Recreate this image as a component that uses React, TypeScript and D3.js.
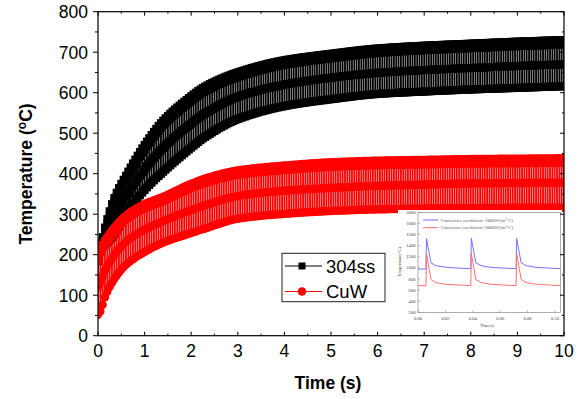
import React from 'react';
import * as d3 from 'd3';

const W = 587;
const H = 399;

// envelope knots (time in s)
const timeKnots = [0, 0.05, 0.15, 0.35, 0.6, 1, 1.4, 1.9, 2.3, 3, 4, 5, 6, 7, 8, 9, 10];
// 304ss: upper edge, middle row, lower edge (°C)
const ssUpper = [205, 228, 277, 350, 405, 481, 541, 592, 625, 660, 690, 706, 719, 726, 731, 736, 740];
const ssMid = [201, 215, 243, 290, 343, 411, 464, 515, 549, 590, 620, 637, 649, 656, 661, 666, 670];
const ssLower = [198, 205, 215, 240, 290, 350, 395, 445, 481, 525, 557, 574, 587, 593, 598, 602, 606];
// CuW
const cuwUpper = [207, 225, 246, 277, 307, 335, 353, 380, 398, 418, 430, 438, 442, 444, 446, 447, 448];
const cuwMid = [120, 132, 161, 199, 232, 262, 283, 306, 322, 345, 358, 365, 370, 373, 376, 377, 378];
const cuwLower = [42, 50, 85, 130, 165, 197, 220, 240, 255, 279, 291, 298, 302, 304, 305, 306, 306];
const cyclePeriod = 0.05;

const seriesNames = ['304ss', 'CuW'];
const xTicks = [0, 1, 2, 3, 4, 5, 6, 7, 8, 9, 10];
const yTicks = [0, 100, 200, 300, 400, 500, 600, 700, 800];

// inset
const insetYTicks = [200, 400, 600, 800, 1000, 1200, 1400, 1600, 1800, 2000];
const insetXTicks = [0, 0.02, 0.04, 0.06, 0.08, 0.1];
const insetBlueT = [0, 0.0058, 0.0062, 0.0095, 0.013, 0.02, 0.03, 0.0385, 0.0389, 0.0422, 0.046, 0.053, 0.063, 0.0716, 0.072, 0.0753, 0.079, 0.086, 0.096, 0.104];
const insetBlueV = [980, 978, 1530, 1090, 1040, 1010, 995, 985, 1530, 1090, 1040, 1010, 995, 985, 1530, 1090, 1040, 1010, 995, 985];
const insetRedT = [0, 0.0058, 0.0062, 0.0095, 0.013, 0.02, 0.03, 0.0385, 0.0389, 0.0422, 0.046, 0.053, 0.063, 0.0716, 0.072, 0.0753, 0.079, 0.086, 0.096, 0.104];
const insetRedV = [680, 678, 1260, 790, 735, 705, 690, 680, 1260, 790, 735, 705, 690, 680, 1260, 790, 735, 705, 690, 680];
const insetLegend = ['Convective coefficient=1000W/(m', 'Convective coefficient=3000W/(m'];

// monotone cubic (Fritsch–Carlson) evaluator through the read knots
function monotone(xs: number[], ys: number[]) {
  const n = xs.length;
  const h: number[] = [];
  const d: number[] = [];
  for (let i = 0; i < n - 1; i++) {
    h.push(xs[i + 1] - xs[i]);
    d.push((ys[i + 1] - ys[i]) / h[i]);
  }
  const m: number[] = new Array(n).fill(0);
  m[0] = d[0];
  m[n - 1] = d[n - 2];
  for (let i = 1; i < n - 1; i++) {
    if (d[i - 1] * d[i] <= 0) m[i] = 0;
    else {
      const w1 = 2 * h[i] + h[i - 1];
      const w2 = h[i] + 2 * h[i - 1];
      m[i] = (w1 + w2) / (w1 / d[i - 1] + w2 / d[i]);
    }
  }
  return (t: number) => {
    let i = d3.bisectRight(xs, t) - 1;
    i = Math.max(0, Math.min(n - 2, i));
    const hh = h[i];
    const s = (t - xs[i]) / hh;
    const s2 = s * s;
    const s3 = s2 * s;
    return (
      (2 * s3 - 3 * s2 + 1) * ys[i] +
      (s3 - 2 * s2 + s) * hh * m[i] +
      (-2 * s3 + 3 * s2) * ys[i + 1] +
      (s3 - s2) * hh * m[i + 1]
    );
  };
}

export default function App() {
  const x = d3.scaleLinear().domain([0, 10]).range([98, 564]);
  const y = d3.scaleLinear().domain([0, 800]).range([335.7, 11.7]);
  const cycles = d3.range(0, 10 + 1e-6, cyclePeriod);

  const band = (upper: number[], mid: number[], lower: number[], color: string, kind: 'sq' | 'ci') => {
    const fU = monotone(timeKnots, upper);
    const fM = monotone(timeKnots, mid);
    const fL = monotone(timeKnots, lower);
    const stripes = cycles.map((t) => `M${x(t)},${y(fL(t)) - 1}V${y(fU(t)) + 1}`).join('');
    const rows: { cx: number; cy: number }[] = [];
    cycles.forEach((t) => {
      const cx = x(t);
      const yu = y(fU(t));
      const yl = y(fL(t));
      rows.push({ cx, cy: yu + 4 });
      rows.push({ cx, cy: yu + 8.5 });
      rows.push({ cx, cy: y(fM(t)) });
      rows.push({ cx, cy: yl - 4 });
    });
    return (
      <g>
        <path d={stripes} stroke={color} strokeWidth={1.85} fill="none" />
        {rows.map((r, i) =>
          kind === 'sq' ? (
            <rect key={i} x={r.cx - 4} y={r.cy - 4} width={8} height={8} fill={color} />
          ) : (
            <circle key={i} cx={r.cx} cy={r.cy} r={4.2} fill={color} />
          )
        )}
      </g>
    );
  };

  const minorY = d3.range(0, 801, 50);
  const minorX = d3.range(0, 10.01, 0.5);

  // inset scales
  const ix = d3.scaleLinear().domain([0, 0.104]).range([418, 560.5]);
  const iy = d3.scaleLinear().domain([200, 2000]).range([312.3, 212.3]);
  const bluePts = insetBlueT.map((t, i) => [ix(t), iy(insetBlueV[i])] as [number, number]);
  const redPts = insetRedT.map((t, i) => [ix(t), iy(insetRedV[i])] as [number, number]);
  const lineGen = d3.line();

  const font = 'Liberation Sans, Arial, sans-serif';
  const serif = 'Liberation Serif, Times New Roman, serif';

  return (
    <svg width={W} height={H} style={{ position: 'absolute', left: 0, top: 0 }} fontFamily={font}>
      <rect x={0} y={0} width={W} height={H} fill="#fff" />
      <defs>
        <clipPath id="plotclip">
          <rect x={98} y={0} width={466} height={336} />
        </clipPath>
      </defs>
      <g clipPath="url(#plotclip)">
        {band(ssUpper, ssMid, ssLower, '#000', 'sq')}
        {band(cuwUpper, cuwMid, cuwLower, '#ff0000', 'ci')}
      </g>

      {/* inset */}
      <g>
        <rect x={398} y={210} width={164} height={123} fill="#fff" />
        <rect x={418} y={212.3} width={142.5} height={100} fill="none" stroke="#777" strokeWidth={0.6} />
        {insetYTicks.map((v) => (
          <g key={v}>
            <line x1={418} x2={420} y1={iy(v)} y2={iy(v)} stroke="#777" strokeWidth={0.5} />
            <text x={415.5} y={iy(v)} dy="0.35em" textAnchor="end" fontSize={4.6} fontFamily={serif} fill="#444">
              {v}
            </text>
          </g>
        ))}
        {insetXTicks.map((v) => (
          <g key={v}>
            <line x1={ix(v)} x2={ix(v)} y1={312.3} y2={310.3} stroke="#777" strokeWidth={0.5} />
            <text x={ix(v)} y={319.5} textAnchor="middle" fontSize={4.6} fontFamily={serif} fill="#444">
              {v.toFixed(2)}
            </text>
          </g>
        ))}
        <text x={487} y={327} textAnchor="middle" fontSize={4.4} fontFamily={serif} fill="#444">
          Time(s)
        </text>
        <text transform="translate(401,262) rotate(-90)" textAnchor="middle" fontSize={4.4} fontFamily={serif} fill="#444">
          Temperature(°C)
        </text>
        <path d={lineGen(bluePts) || ''} fill="none" stroke="#7373ff" strokeWidth={1} />
        <path d={lineGen(redPts) || ''} fill="none" stroke="#ff7070" strokeWidth={1} />
        <line x1={423} x2={438} y1={220} y2={220} stroke="#7373ff" strokeWidth={1} />
        <line x1={423} x2={438} y1={227.7} y2={227.7} stroke="#ff7070" strokeWidth={1} />
        {insetLegend.map((s, i) => (
          <text key={i} x={441} y={220 + i * 7.7} dy="0.35em" fontSize={4.6} fontFamily={serif} fill="#555">
            {s}
            <tspan dy={-1.5} fontSize={3}>2</tspan>
            <tspan dy={1.5}>°C)</tspan>
          </text>
        ))}
      </g>

      {/* frame */}
      <rect x={98} y={11.7} width={466} height={324} fill="none" stroke="#000" strokeWidth={1.2} />
      {minorY.map((v) => {
        const major = v % 100 === 0;
        return (
          <g key={v}>
            <line x1={98} x2={98 - (major ? 5 : 3)} y1={y(v)} y2={y(v)} stroke="#000" strokeWidth={1} />
            <line x1={564} x2={564 - (major ? 4 : 2)} y1={y(v)} y2={y(v)} stroke="#000" strokeWidth={1} />
          </g>
        );
      })}
      {minorX.map((v) => {
        const major = Math.abs(v - Math.round(v)) < 1e-6;
        return (
          <g key={v}>
            <line x1={x(v)} x2={x(v)} y1={335.7} y2={335.7 - (major ? 4 : 2)} stroke="#000" strokeWidth={1} />
            <line x1={x(v)} x2={x(v)} y1={11.7} y2={11.7 + (major ? 4 : 2)} stroke="#000" strokeWidth={1} />
          </g>
        );
      })}
      {yTicks.map((v) => (
        <text key={v} x={88} y={y(v)} dy="0.36em" textAnchor="end" fontSize={17.5} fill="#000">
          {v}
        </text>
      ))}
      {xTicks.map((v) => (
        <text key={v} x={x(v)} y={357} textAnchor="middle" fontSize={17.5} fill="#000">
          {v}
        </text>
      ))}
      <text x={328} y={389} textAnchor="middle" fontSize={17.5} fontWeight="bold">
        Time (s)
      </text>
      <text transform="translate(32,174) rotate(-90)" textAnchor="middle" fontSize={17.5} fontWeight="bold">
        Temperature (<tspan dy={-6} fontSize={12}>o</tspan>
        <tspan dy={6}>C)</tspan>
      </text>

      {/* legend */}
      <g>
        <rect x={282} y={253.3} width={103} height={48.4} fill="#fff" stroke="#222" strokeWidth={1} />
        <line x1={285} x2={322} y1={266} y2={266} stroke="#000" strokeWidth={1.2} />
        <rect x={298.5} y={262.5} width={7} height={7} fill="#000" />
        <text x={326} y={266} dy="0.36em" fontSize={18.5}>
          {seriesNames[0]}
        </text>
        <line x1={285} x2={322} y1={291.5} y2={291.5} stroke="#ff0000" strokeWidth={1} />
        <circle cx={302} cy={291.5} r={4.3} fill="#ff0000" />
        <text x={326} y={291.5} dy="0.36em" fontSize={18.5}>
          {seriesNames[1]}
        </text>
      </g>
    </svg>
  );
}
